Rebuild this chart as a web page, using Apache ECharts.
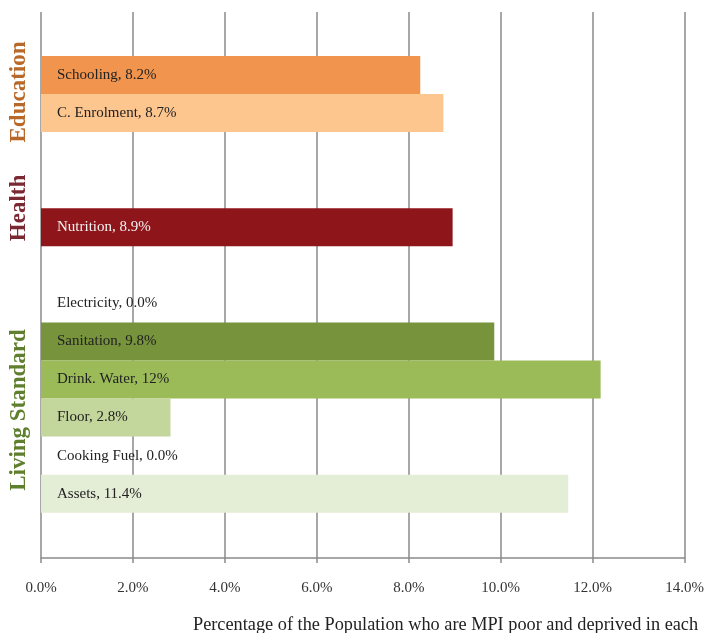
<!DOCTYPE html>
<html>
<head>
<meta charset="utf-8">
<script src="https://cdn.jsdelivr.net/npm/echarts@6/dist/echarts.min.js"></script>
<style>html,body{margin:0;padding:0;background:#fff}#c{width:707px;height:633px}</style>
</head>
<body>
<div id="c"></div>
<script>
// Data
var categories = ['Schooling', 'C. Enrolment', '', '', 'Nutrition', '', 'Electricity', 'Sanitation', 'Drink. Water', 'Floor', 'Cooking Fuel', 'Assets'];
var values = [8.2, 8.7, null, null, 8.9, null, 0.0, 9.8, 12.1, 2.8, 0.0, 11.4];
var valueLabels = ['8.2%', '8.7%', '', '', '8.9%', '', '0.0%', '9.8%', '12%', '2.8%', '0.0%', '11.4%'];
var barColors = ['#F1954E', '#FDC68F', '#ffffff', '#ffffff', '#8E161A', '#ffffff', '#ffffff', '#77933C', '#9BBB59', '#C3D69B', '#ffffff', '#E4EDD5'];
var labelColors = ['#222', '#222', '#222', '#222', '#f2f2f2', '#222', '#222', '#222', '#222', '#222', '#222', '#222'];
var groupNames = ['Education', 'Health', 'Living Standard'];
var groupColors = ['#B8692A', '#7A2832', '#5F7F2E'];
var xTicks = { min: 0, max: 14, interval: 2 };
var axisTitle = 'Percentage of the Population who are MPI poor and deprived in each';

var serif = '"Liberation Serif", "DejaVu Serif", serif';
var chart = echarts.init(document.getElementById('c'));

var barData = values.map(function (v, i) {
  return {
    value: v,
    itemStyle: { color: barColors[i] },
    label: { color: labelColors[i] }
  };
});

var groupY = [92, 208, 410];
var graphics = groupNames.map(function (g, i) {
  return {
    type: 'text',
    x: 19, y: groupY[i],
    rotation: Math.PI / 2,
    style: {
      text: g, fill: groupColors[i],
      font: 'bold 23px ' + serif,
      align: 'center', verticalAlign: 'middle'
    }
  };
});
graphics.push({
  type: 'text', left: 193, top: 616,
  style: { text: axisTitle, fill: '#222', font: '18.3px ' + serif }
});

chart.setOption({
  animation: false,
  grid: [
    { left: 41, right: 18.5, top: 12, bottom: 75 },
    { left: 41, right: 18.5, top: 56, bottom: 120.3 }
  ],
  xAxis: [
    {
      gridIndex: 0, type: 'value', min: xTicks.min, max: xTicks.max, interval: xTicks.interval,
      axisLine: { show: true, lineStyle: { color: '#8a8a8a', width: 1.5 } },
      axisTick: { show: true, length: 5, lineStyle: { color: '#8a8a8a', width: 1.5 } },
      splitLine: { show: true, lineStyle: { color: '#8a8a8a', width: 1.5 } },
      axisLabel: {
        margin: 23, color: '#333', fontFamily: serif, fontSize: 15,
        formatter: function (v) { return v.toFixed(1) + '%'; }
      }
    },
    {
      gridIndex: 1, type: 'value', min: xTicks.min, max: xTicks.max, interval: xTicks.interval,
      show: false
    }
  ],
  yAxis: [
    { gridIndex: 0, type: 'value', min: 0, max: 1, show: false, splitLine: { show: false } },
    { gridIndex: 1, type: 'category', data: categories, inverse: true, show: false }
  ],
  series: [{
    type: 'bar',
    xAxisIndex: 1, yAxisIndex: 1,
    barWidth: '100%',
    barCategoryGap: 0,
    data: barData,
    z: 3,
    label: {
      show: true,
      position: [16, '50%'],
      align: 'left', verticalAlign: 'middle',
      fontFamily: serif, fontSize: 15,
      formatter: function (p) {
        return categories[p.dataIndex] ? categories[p.dataIndex] + ', ' + valueLabels[p.dataIndex] : '';
      }
    }
  }],
  graphic: graphics
});
</script>
</body>
</html>
